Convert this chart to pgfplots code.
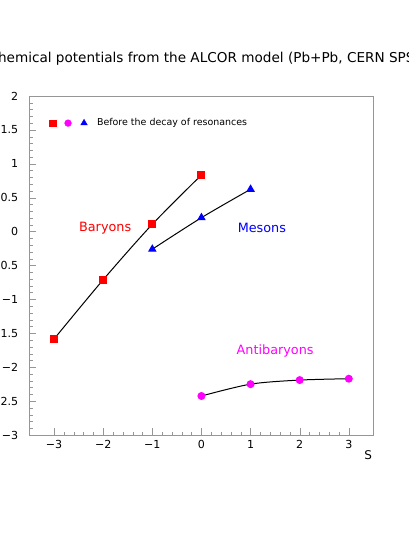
\documentclass[border=0pt]{standalone}
\usepackage{fontspec}
\setmainfont{DejaVu Sans}
\usepackage{pgfplots}
\pgfplotsset{compat=1.18}
\definecolor{framegray}{RGB}{150,150,150}
\definecolor{pawred}{RGB}{255,0,0}
\definecolor{pawmag}{RGB}{255,0,255}
\definecolor{pawblue}{RGB}{0,0,255}

\begin{document}
\begin{tikzpicture}
  % page = 409 x 545 px (1 px = 0.75 pt); the reference crops title and tick labels
  \useasboundingbox (0pt,0pt) rectangle (306.75pt,408.75pt);
  \clip (0pt,0pt) rectangle (306.75pt,408.75pt);
  \begin{axis}[
      at={(22.125pt,82.5pt)}, anchor=south west,
      scale only axis, width=257.9pt, height=254.25pt,
      xmin=-3.5, xmax=3.5, ymin=-3, ymax=2,
      xtick={-3,-2,-1,0,1,2,3},
      xticklabels={−3,−2,−1,0,1,2,3},
      ytick={-3,-2.5,-2,-1.5,-1,-0.5,0,0.5,1,1.5,2},
      yticklabels={−3,−2.5,−2,−1.5,−1,−0.5,0,0.5,1,1.5,2},
      minor x tick num=4, minor y tick num=4,
      tick pos=left, tick align=inside,
      axis line style={framegray},
      tick style={framegray},
      major tick length=5pt, minor tick length=2.5pt,
      ticklabel style={font=\fontsize{8.3}{9}\selectfont},
      yticklabel style={anchor=east, xshift=-5pt},
      xticklabel style={yshift=-0.5pt},
      xlabel={S},
      xlabel style={at={(0.985,-0.059)}, anchor=center, font=\fontsize{9}{10}\selectfont},
      title={Chemical potentials from the ALCOR model (Pb+Pb, CERN SPS)},
      title style={at={(0.508,1.085)}, anchor=center, font=\fontsize{10.2}{11}\selectfont},
      legend style={at={(0.058,0.92)}, anchor=west, draw=none, fill=none,
        inner sep=0pt, font=\fontsize{7.1}{8}\selectfont},
    ]

    \addlegendimage{legend image code/.code={%
        \draw[pawred, mark=square*, mark size=2.5pt, only marks] plot coordinates {(0pt,0pt)};
        \draw[pawmag, mark=*, mark size=2.5pt, only marks] plot coordinates {(11.25pt,0pt)};
        \draw[pawblue, mark=triangle*, mark size=2.8pt, only marks] plot coordinates {(23.25pt,0pt)};
        \path[draw=none, fill=none] (28pt,0pt) rectangle (31pt,0.1pt);
      }}
    \addlegendentry{Before the decay of resonances}

    % Baryons
    \addplot[black, line width=0.75pt, smooth, mark=square*, mark size=2.6pt,
      mark options={pawred, solid}] coordinates {
      (-3, -1.584)
      (-2, -0.71)
      (-1, 0.108)
      (0, 0.835)
    };

    % Mesons
    \addplot[black, line width=0.75pt, smooth, mark=triangle*, mark size=3pt,
      mark options={pawblue, solid}] coordinates {
      (-1, -0.26)
      (0, 0.205)
      (1, 0.624)
    };

    % Antibaryons
    \addplot[black, line width=0.75pt, smooth, mark=*, mark size=2.6pt,
      mark options={pawmag, solid}] coordinates {
      (0, -2.425)
      (1, -2.25)
      (2, -2.19)
      (3, -2.17)
    };

    \node[pawred, font=\fontsize{9.6}{10}\selectfont] at (axis cs:-1.96,0.05) {Baryons};
    \node[pawblue, font=\fontsize{9.6}{10}\selectfont] at (axis cs:1.23,0.05) {Mesons};
    \node[pawmag, font=\fontsize{9.6}{10}\selectfont] at (axis cs:1.5,-1.76) {Antibaryons};
  \end{axis}
\end{tikzpicture}
\end{document}
